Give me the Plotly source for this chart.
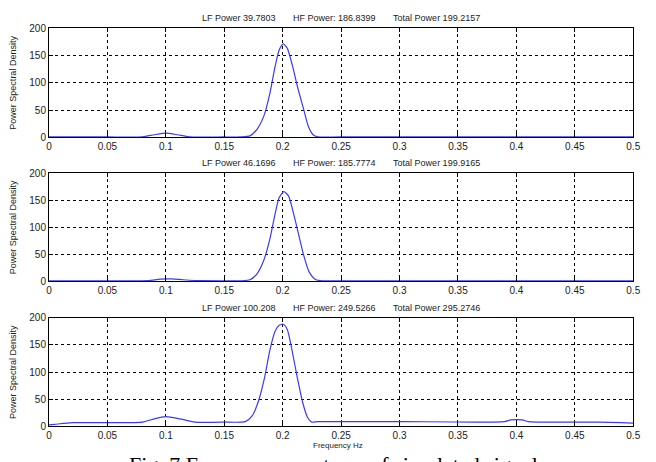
import plotly.graph_objects as go

# ---- data ----
freq_1 = [0, 0.05, 0.08, 0.09, 0.1, 0.11, 0.12, 0.15, 0.165, 0.172, 0.178, 0.184, 0.189,
          0.1935, 0.197, 0.2005, 0.204, 0.2085, 0.213, 0.2175, 0.222, 0.226, 0.23, 0.25, 0.5]
psd_1 = [1, 1, 1.2, 5, 8, 5, 1.2, 1, 1, 3, 15, 40, 80,
         130, 160, 171, 163, 130, 90, 55, 20, 5, 1.2, 1, 1]

freq_2 = [0, 0.05, 0.085, 0.095, 0.105, 0.115, 0.13, 0.15, 0.165, 0.172, 0.178, 0.184, 0.189,
          0.1935, 0.197, 0.201, 0.205, 0.209, 0.2135, 0.218, 0.2225, 0.227, 0.232, 0.25, 0.5]
psd_2 = [1, 1, 1.5, 4, 4.5, 3, 1.2, 1, 1, 3, 14, 40, 78,
         125, 155, 166, 158, 128, 88, 48, 18, 5, 1.2, 1, 1]

freq_3 = [0, 0.005, 0.02, 0.05, 0.08, 0.09, 0.1, 0.11, 0.125, 0.15, 0.168, 0.174, 0.179,
          0.1845, 0.189, 0.1935, 0.197, 0.2005, 0.204, 0.208, 0.2125, 0.217, 0.221, 0.225,
          0.23, 0.25, 0.3, 0.39, 0.395, 0.405, 0.41, 0.435, 0.47, 0.49, 0.5]
psd_3 = [3, 4, 7, 7, 8, 14, 18, 15, 8, 8, 9, 20, 45,
         90, 140, 175, 186, 188, 178, 140, 90, 45, 18, 8,
         9, 9, 9, 9, 12, 12, 9, 8, 8, 7, 6]

titles = ["LF Power 39.7803", "HF Power: 186.8399", "Total Power 199.2157"], \
         ["LF Power 46.1696", "HF Power: 185.7774", "Total Power 199.9165"], \
         ["LF Power 100.208", "HF Power: 249.5266", "Total Power 295.2746"]

x_ticks = [0, 0.05, 0.1, 0.15, 0.2, 0.25, 0.3, 0.35, 0.4, 0.45, 0.5]
x_tick_labels = ["0", "0.05", "0.1", "0.15", "0.2", "0.25", "0.3", "0.35", "0.4", "0.45", "0.5"]
y_ticks = [0, 50, 100, 150, 200]
y_tick_labels = ["0", "50", "100", "150", "200"]

y_label = "Power Spectral Density"
x_label = "Frequency Hz"
caption = "Fig. 7 Frequency spectrum of simulated signals"

W, H = 656, 462
x_dom = [46.7 / W, 640 / W]
panels_px = [(22.7, 135.0), (171.7, 282.7), (320.0, 431.7)]
y_doms = [[1 - b / H, 1 - t / H] for t, b in panels_px]

series = [(freq_1, psd_1), (freq_2, psd_2), (freq_3, psd_3)]

fig = go.Figure()
tick_font = dict(family="Arial, Liberation Sans, sans-serif", size=10, color="#222")
small_font = dict(family="Arial, Liberation Sans, sans-serif", size=9, color="#222")
nb = "\u00a0" * 7

annotations = []
for i, (fx, fy) in enumerate(series):
    n = "" if i == 0 else str(i + 1)
    fig.add_trace(go.Scatter(x=fx, y=fy, mode="lines", line=dict(color="#3b3bf0", width=1.2, shape="spline", smoothing=0.6),
                             xaxis="x" + n, yaxis="y" + n, showlegend=False))
    ax = dict(domain=x_dom, range=[0, 0.5], tickvals=x_ticks, ticktext=x_tick_labels,
              showgrid=True, gridcolor="black", griddash="dot", gridwidth=1,
              showline=True, linecolor="black", linewidth=1, mirror="ticks",
              ticks="inside", ticklen=4, tickcolor="black", tickfont=tick_font, zeroline=False,
              anchor="y" + n)
    ay = dict(domain=y_doms[i], range=[0, 200], tickvals=y_ticks, ticktext=y_tick_labels,
              showgrid=True, gridcolor="black", griddash="dot", gridwidth=1,
              showline=True, linecolor="black", linewidth=1, mirror="ticks",
              ticks="inside", ticklen=4, tickcolor="black", tickfont=tick_font, zeroline=False,
              anchor="x" + n)
    fig.update_layout(**{"xaxis" + n: ax, "yaxis" + n: ay})
    t, b = panels_px[i]
    annotations.append(dict(text=nb.join(titles[i]), x=(x_dom[0] + x_dom[1]) / 2, y=1 - (t - 3) / H,
                            xref="paper", yref="paper", xanchor="center", yanchor="bottom",
                            showarrow=False, font=small_font))
    annotations.append(dict(text=y_label, x=10 / W, y=1 - ((t + b) / 2) / H, xref="paper", yref="paper",
                            xanchor="center", yanchor="middle", textangle=-90, showarrow=False,
                            font=small_font))

annotations.append(dict(text=x_label, x=340 / W, y=1 - 451.5 / H, xref="paper", yref="paper",
                        xanchor="center", yanchor="middle", showarrow=False,
                        font=dict(family="Arial, Liberation Sans, sans-serif", size=8, color="#222")))
annotations.append(dict(text=caption, x=340 / W, y=1 - 456 / H, xref="paper", yref="paper",
                        xanchor="center", yanchor="top", showarrow=False,
                        font=dict(family="Liberation Serif, Times New Roman, serif", size=22, color="black")))

fig.update_layout(width=W, height=H, margin=dict(l=0, r=0, t=0, b=0),
                  paper_bgcolor="white", plot_bgcolor="white", annotations=annotations)

fig.write_html("out.html")
